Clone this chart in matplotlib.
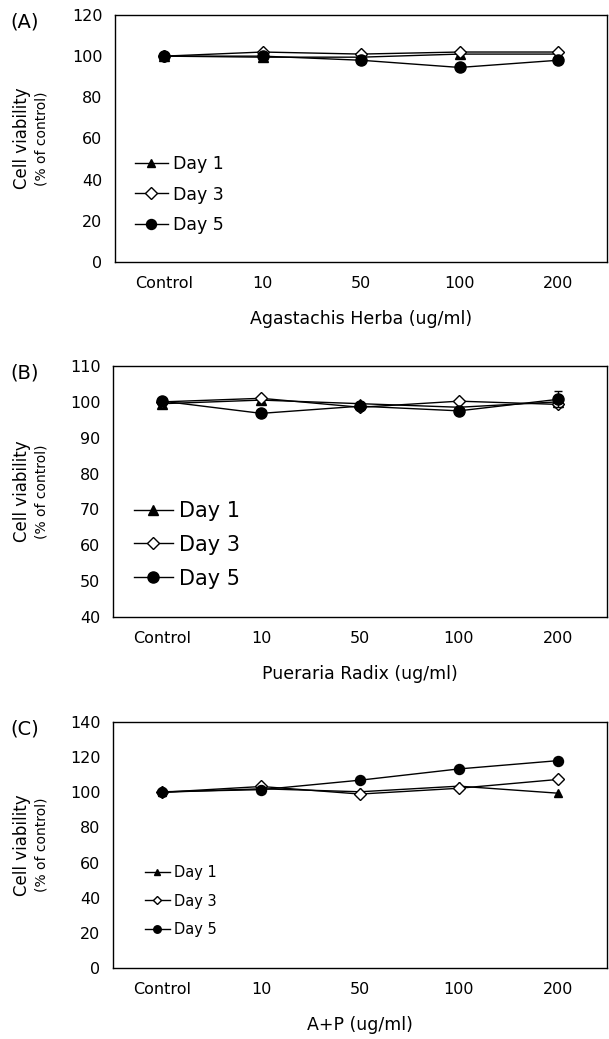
import matplotlib
matplotlib.use("Agg")
import matplotlib.pyplot as plt

plt.rcParams['font.family'] = ['DejaVu Sans']

doses = ["Control", "10", "50", "100", "200"]
days = ["Day 1", "Day 3", "Day 5"]

# panel A - Agastachis Herba
a_day1 = [100, 99.5, 99.5, 101, 101]
a_day3 = [100, 102, 101, 102, 102]
a_day5 = [100, 100, 98, 94.5, 98]

# panel B - Pueraria Radix
b_day1 = [99.5, 100.5, 99.5, 98.5, 100]
b_day3 = [100, 101, 98.5, 100.2, 99.3]
b_day5 = [100.2, 96.8, 98.8, 97.5, 100.7]
b_err5 = [0, 0, 0, 0, 2.2]

# panel C - A+P
c_day1 = [100, 102, 100.3, 103.5, 99.5]
c_day3 = [100, 103.3, 99, 102.3, 107.3]
c_day5 = [100.3, 101.5, 106.9, 113.3, 118]
c_err5 = [0, 0, 0, 0, 1.5]

panels = [
    ("(A)", "Agastachis Herba (ug/ml)", [a_day1, a_day3, a_day5], [None, None, None],
     (0, 120), [0, 20, 40, 60, 80, 100, 120], [0.189, 0.7478, 0.808, 0.2378],
     12.5, (0.04, 0.433), 0.72, 1.9, 0.9, 1.0),
    ("(B)", "Pueraria Radix (ug/ml)", [b_day1, b_day3, b_day5], [None, None, b_err5],
     (40, 110), [40, 50, 60, 70, 80, 90, 100, 110], [0.1855, 0.4062, 0.8115, 0.2415],
     15, (0.043, 0.462), 0.66, 1.85, 1.0, 1.0),
    ("(C)", "A+P (ug/ml)", [c_day1, c_day3, c_day5], [None, None, c_err5],
     (0, 140), [0, 20, 40, 60, 80, 100, 120, 140], [0.1855, 0.0683, 0.8115, 0.2368],
     10.5, (0.065, 0.42), 0.95, 1.7, 0.75, 0.9),
]

markers = [("^", "black"), ("D", "white"), ("o", "black")]
msizes = [7, 6.5, 8]

fig = plt.figure(figsize=(6.09, 10.39), dpi=100)

for (tag, xlab, series, errs, ylim, yticks, rect, legsize, legpos,
     lspace, hlen, mscale, msz) in panels:
    ax = fig.add_axes(rect)
    x = list(range(len(doses)))
    for i in range(3):
        m, fc = markers[i]
        if errs[i] is not None:
            ax.errorbar(x, series[i], yerr=errs[i], fmt="none", ecolor="black",
                        capsize=3, elinewidth=1)
        ax.plot(x, series[i], color="black", lw=1.0, marker=m, markerfacecolor=fc,
                markeredgecolor="black", markersize=msizes[i] * msz, label=days[i])
    ax.set_xlim(-0.5, 4.5)
    ax.set_ylim(*ylim)
    ax.set_yticks(yticks)
    ax.set_xticks(x)
    ax.set_xticklabels(doses)
    ax.tick_params(axis="both", length=0, labelsize=11.5, pad=9)
    ax.tick_params(axis="x", pad=10)
    for s in ax.spines.values():
        s.set_linewidth(1.0)
    ax.set_xlabel(xlab, fontsize=12.5, labelpad=14)
    ax.legend(loc="upper left", bbox_to_anchor=legpos, frameon=False,
              fontsize=legsize, handlelength=hlen, handletextpad=0.3,
              labelspacing=lspace, borderaxespad=0, borderpad=0, markerscale=mscale)
    # two-line y label
    bb = ax.get_position()
    yc = bb.y0 + bb.height / 2
    fig.text(0.036, yc, "Cell viability", rotation=90, ha="center", va="center", fontsize=12)
    fig.text(0.068, yc, "(% of control)", rotation=90, ha="center", va="center", fontsize=10)
    fig.text(0.041, bb.y1 - 7 / 1039, tag, ha="center", va="center", fontsize=14)

fig.savefig("out.png", dpi=100)
